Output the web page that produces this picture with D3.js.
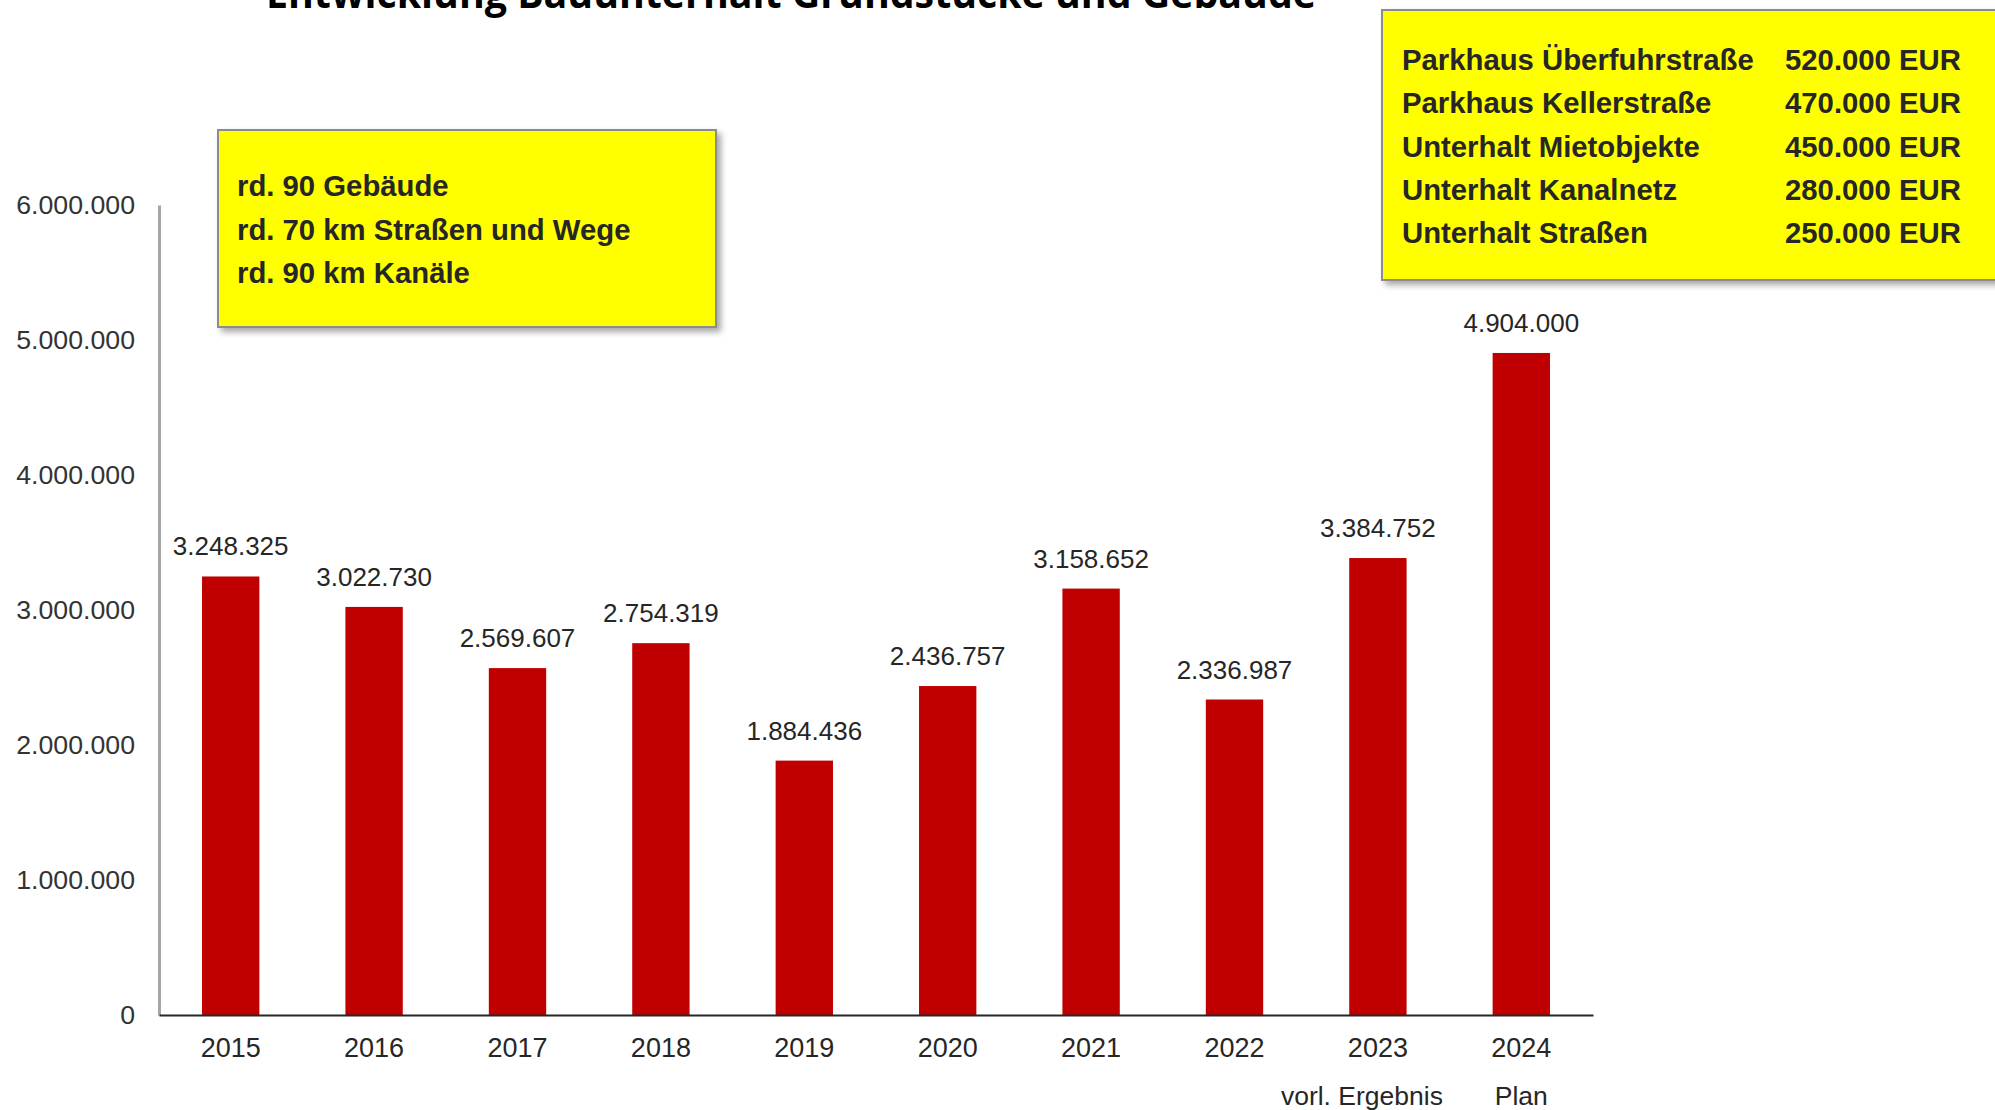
<!DOCTYPE html>
<html>
<head>
<meta charset="utf-8">
<script src="https://cdn.jsdelivr.net/npm/d3@7"></script>
<style>
  body { margin: 0; background: #fff; }
  svg text { font-family: "Liberation Sans", Arial, sans-serif; }
</style>
</head>
<body>
<div id="chart"></div>
<script>
// values
var years = ["2015", "2016", "2017", "2018", "2019", "2020", "2021", "2022", "2023", "2024"];
var costs = [3248325, 3022730, 2569607, 2754319, 1884436, 2436757, 3158652, 2336987, 3384752, 4904000];
var yTicks = [0, 1000000, 2000000, 3000000, 4000000, 5000000, 6000000];
var subLabels = {"2023": "vorl. Ergebnis", "2024": "Plan"};
var infoLines = ["rd. 90 Gebäude", "rd. 70 km Straßen und Wege", "rd. 90 km Kanäle"];
var projectNames = ["Parkhaus Überfuhrstraße", "Parkhaus Kellerstraße", "Unterhalt Mietobjekte", "Unterhalt Kanalnetz", "Unterhalt Straßen"];
var projectAmounts = ["520.000 EUR", "470.000 EUR", "450.000 EUR", "280.000 EUR", "250.000 EUR"];

var svgWidth = 1995;
var svgHeight = 1110;

var margin = {top: 205, right: 402, bottom: 95, left: 159};
var width = svgWidth - margin.left - margin.right;
var height = svgHeight - margin.top - margin.bottom;

var de = d3.formatLocale({decimal: ",", thousands: ".", grouping: [3], currency: ["", " €"]});
var fmt = de.format(",d");

var data = years.map((y, i) => ({year: y, value: costs[i]}));

var svg = d3.select("#chart")
  .append("svg")
  .attr("width", svgWidth)
  .attr("height", svgHeight);

var defs = svg.append("defs");
var shadow = defs.append("filter").attr("id", "shadow")
  .attr("x", "-5%").attr("y", "-5%").attr("width", "115%").attr("height", "120%");
shadow.append("feDropShadow")
  .attr("dx", 4).attr("dy", 4).attr("stdDeviation", 3)
  .attr("flood-color", "#000").attr("flood-opacity", 0.35);

//title (cut off at the top like in the original)
svg.append("text")
  .attr("x", 266)
  .attr("y", 8)
  .attr("textLength", 1050)
  .attr("lengthAdjust", "spacingAndGlyphs")
  .style("font-family", "'Open Sans', sans-serif")
  .style("font-weight", "700")
  .style("font-size", "42px")
  .attr("fill", "#000")
  .text("Entwicklung Bauunterhalt Grundstücke und Gebäude");

var chartGroup = svg.append("g")
  .attr("transform", `translate(${margin.left}, ${margin.top})`);

//scales
var xBandScale = d3.scaleBand()
  .domain(years)
  .range([0, width])
  .paddingInner(0.6)
  .paddingOuter(0.3);

var yLinearScale = d3.scaleLinear()
  .domain([0, 6000000])
  .range([height, 0]);

//y axis
var leftAxis = d3.axisLeft(yLinearScale)
  .tickValues(yTicks)
  .tickSize(0)
  .tickPadding(24)
  .tickFormat(fmt);

var yAxis = chartGroup.append("g").call(leftAxis);
yAxis.select(".domain").attr("stroke", "#a6a6a6").attr("stroke-width", 3);
yAxis.selectAll("text")
  .style("font-size", "26.7px")
  .attr("fill", "#333");

//bars
chartGroup.selectAll(".bar")
  .data(data)
  .enter()
  .append("rect")
  .attr("class", "bar")
  .attr("x", d => xBandScale(d.year))
  .attr("y", d => yLinearScale(d.value))
  .attr("width", xBandScale.bandwidth())
  .attr("height", d => height - yLinearScale(d.value))
  .attr("fill", "#c00000");

//value labels
chartGroup.selectAll(".valueLabel")
  .data(data)
  .enter()
  .append("text")
  .attr("class", "valueLabel")
  .attr("x", d => xBandScale(d.year) + xBandScale.bandwidth() / 2)
  .attr("y", d => yLinearScale(d.value) - 21)
  .attr("text-anchor", "middle")
  .style("font-size", "26px")
  .attr("fill", "#262626")
  .text(d => fmt(d.value));

//x axis
var bottomAxis = d3.axisBottom(xBandScale)
  .tickSize(0)
  .tickPadding(23);

var xAxis = chartGroup.append("g")
  .attr("transform", `translate(0, ${height})`)
  .call(bottomAxis);
xAxis.select(".domain").attr("stroke", "#262626").attr("stroke-width", 2);
xAxis.selectAll("text")
  .style("font-size", "27px")
  .attr("fill", "#262626");

chartGroup.selectAll(".subLabel")
  .data(years.filter(y => subLabels[y]))
  .enter()
  .append("text")
  .attr("class", "subLabel")
  .attr("x", d => xBandScale(d) + xBandScale.bandwidth() / 2 - (d === "2023" ? 16 : 0))
  .attr("y", height + 90)
  .attr("text-anchor", "middle")
  .style("font-size", "26.5px")
  .attr("fill", "#262626")
  .text(d => subLabels[d]);

//info box left
var infoBox = svg.append("g").attr("transform", "translate(218, 130)");
infoBox.append("rect")
  .attr("width", 498)
  .attr("height", 197)
  .attr("fill", "#ffff00")
  .attr("stroke", "#8c8c8c")
  .attr("stroke-width", 2)
  .attr("filter", "url(#shadow)");
infoBox.selectAll("text")
  .data(infoLines)
  .enter()
  .append("text")
  .attr("x", 19)
  .attr("y", (d, i) => 66 + i * 43.5)
  .style("font-size", "29.3px")
  .style("font-weight", "700")
  .attr("fill", "#262626")
  .text(d => d);

//project box right
var projBox = svg.append("g").attr("transform", "translate(1382, 10)");
projBox.append("rect")
  .attr("width", 640)
  .attr("height", 270)
  .attr("fill", "#ffff00")
  .attr("stroke", "#8c8c8c")
  .attr("stroke-width", 2)
  .attr("filter", "url(#shadow)");
projBox.selectAll(".pname")
  .data(projectNames)
  .enter()
  .append("text")
  .attr("class", "pname")
  .attr("x", 20)
  .attr("y", (d, i) => 60 + i * 43.3)
  .style("font-size", "29.3px")
  .style("font-weight", "700")
  .attr("fill", "#262626")
  .text(d => d);
projBox.selectAll(".pamount")
  .data(projectAmounts)
  .enter()
  .append("text")
  .attr("class", "pamount")
  .attr("x", 403)
  .attr("y", (d, i) => 60 + i * 43.3)
  .style("font-size", "29.3px")
  .style("font-weight", "700")
  .attr("fill", "#262626")
  .text(d => d);
</script>
</body>
</html>
